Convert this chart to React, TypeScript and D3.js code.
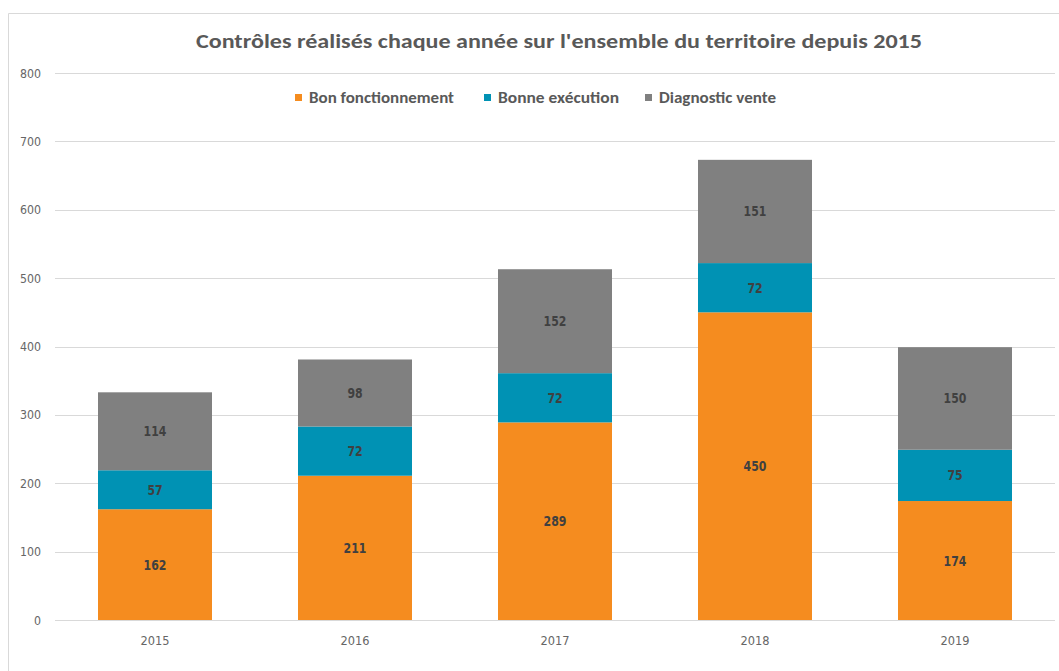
import React from "react";
import * as d3 from "d3";

const years = ["2015", "2016", "2017", "2018", "2019"];
const seriesNames = ["Bon fonctionnement", "Bonne exécution", "Diagnostic vente"];
const bonFonctionnement = [162, 211, 289, 450, 174];
const bonneExecution = [57, 72, 72, 72, 75];
const diagnosticVente = [114, 98, 152, 151, 150];
const colors = ["#F58C1F", "#0092B4", "#808080"];
const yTicks = [0, 100, 200, 300, 400, 500, 600, 700, 800];

const W = 1059;
const H = 671;
const FONT = "Carlito, Calibri, 'Liberation Sans Narrow', 'Open Sans', Roboto, sans-serif";
const TICKFONT = "'DejaVu Sans', 'Open Sans', sans-serif";

export default function App() {
  const x = d3.scaleBand<string>().domain(years).range([55, 1055]).paddingInner(0.43).paddingOuter(0.215);
  const y = d3.scaleLinear().domain([0, 800]).range([620, 73]);

  const rows = years.map((yr, i) => ({
    year: yr,
    s0: bonFonctionnement[i],
    s1: bonneExecution[i],
    s2: diagnosticVente[i],
  }));
  const stack = d3.stack<any>().keys(["s0", "s1", "s2"]);
  const layers = stack(rows);

  const legendX = [295, 484, 645];
  const legendW = [145, 121, 117];

  return (
    <svg width={W} height={H} style={{ position: "absolute", left: 0, top: 0, background: "#fff" }} fontFamily={FONT}>
      <rect x={0} y={0} width={W} height={H} fill="#fff" />
      <path d={`M8.5,${H} V13.5 H${W}`} fill="none" stroke="#D9D9D9" strokeWidth={1} />
      <text x={559} y={48} textAnchor="middle" fontSize={20} fontWeight="bold" fill="#595959" textLength={726} lengthAdjust="spacingAndGlyphs">
        Contrôles réalisés chaque année sur l'ensemble du territoire depuis 2015
      </text>
      {yTicks.map((t) => (
        <g key={t}>
          <line x1={55} x2={1055} y1={Math.round(y(t)) + 0.5} y2={Math.round(y(t)) + 0.5} stroke="#D9D9D9" strokeWidth={1} />
          <text x={41} y={y(t) + 4.5} textAnchor="end" fontSize={12} fontFamily={TICKFONT} fill="#666666" textLength={String(t).length * 7} lengthAdjust="spacingAndGlyphs">{t}</text>
        </g>
      ))}
      {seriesNames.map((n, i) => (
        <g key={n}>
          <rect x={legendX[i]} y={94} width={7} height={7} fill={colors[i]} />
          <text x={legendX[i] + 14} y={103} fontSize={15} fontWeight="bold" fill="#595959" textLength={legendW[i]} lengthAdjust="spacingAndGlyphs">{n}</text>
        </g>
      ))}
      {layers.map((layer, li) => (
        <g key={li}>
          {layer.map((d: any, i: number) => {
            const yr = years[i];
            const y0 = y(d[0]);
            const y1 = y(d[1]);
            const val = d[1] - d[0];
            return (
              <g key={yr}>
                <rect x={x(yr)} y={y1} width={x.bandwidth()} height={y0 - y1} fill={colors[li]} />
                <text x={(x(yr) as number) + x.bandwidth() / 2} y={(y0 + y1) / 2 + 5} textAnchor="middle" fontSize={14} fontWeight="bold" fill="#404040" fontFamily="'DejaVu Sans', sans-serif" textLength={String(val).length * 7.6} lengthAdjust="spacingAndGlyphs">{val}</text>
              </g>
            );
          })}
        </g>
      ))}
      {years.map((yr) => (
        <text key={yr} x={(x(yr) as number) + x.bandwidth() / 2} y={645} textAnchor="middle" fontSize={12} fontFamily={TICKFONT} fill="#666666" textLength={29} lengthAdjust="spacingAndGlyphs">{yr}</text>
      ))}
    </svg>
  );
}
